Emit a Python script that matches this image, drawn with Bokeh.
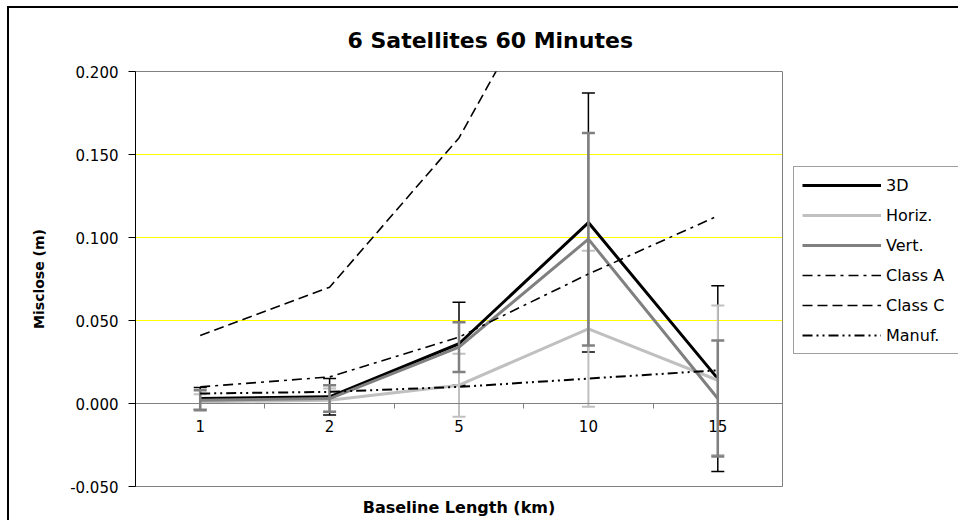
from bokeh.plotting import figure
from bokeh.layouts import row
from bokeh.models import (ColumnDataSource, FactorRange, Range1d, LinearAxis, CategoricalAxis,
                          FixedTicker, NumeralTickFormatter, Legend, LegendItem, InlineStyleSheet)
from bokeh.embed import file_html
from bokeh.resources import INLINE

# Baseline lengths (km) used as categories
baselines = ["1", "2", "5", "10", "15"]

# Mean misclose (m) per baseline
misclose_3d = [0.003, 0.004, 0.036, 0.109, 0.015]
misclose_horiz = [0.001, 0.002, 0.011, 0.045, 0.014]
misclose_vert = [0.002, 0.003, 0.034, 0.099, 0.003]

# Error bar half-widths (m)
err_3d = [0.0066, 0.011, 0.025, 0.078, 0.056]
err_horiz = [0.0045, 0.007, 0.019, 0.047, 0.045]
err_vert = [0.006, 0.008, 0.015, 0.064, 0.035]

# Tolerance curves (m)
class_a = [0.010, 0.016, 0.040, 0.078, 0.113]
class_c = [0.041, 0.070, 0.160, 0.300, 0.450]
manuf = [0.006, 0.007, 0.010, 0.015, 0.020]

y_ticks = [-0.05, 0.0, 0.05, 0.10, 0.15, 0.20]
grid_ticks = [0.05, 0.10, 0.15]

FONT = "DejaVu Sans"

# Series styles: (label, colour, width, dash)
styles = [
    ("3D", "black", 3, "solid"),
    ("Horiz.", "#C0C0C0", 3, "solid"),
    ("Vert.", "#808080", 3, "solid"),
    ("Class A", "black", 1.6, "10 5 3 5"),
    ("Class C", "black", 1.6, "10 5"),
    ("Manuf.", "black", 2, "10 4 2 4 2 4"),
]
series = [misclose_3d, misclose_horiz, misclose_vert, class_a, class_c, manuf]


def with_bars(values, errs):
    return ColumnDataSource(dict(
        x=baselines, y=values,
        upper=[v + e for v, e in zip(values, errs)],
        lower=[v - e for v, e in zip(values, errs)],
    ))


def border_css(left, width, draw_left):
    side = "border-left: 2px solid black;" if draw_left else ""
    return InlineStyleSheet(css=f"""
:host {{ position: relative; }}
:host::after {{
  content: ""; position: absolute; left: {left}px; top: 6px; width: {width}px; height: 514px;
  border-top: 2px solid black; {side} box-sizing: border-box;
  pointer-events: none; z-index: 10;
}}
""")


p = figure(width=793, height=520,
           x_range=FactorRange(factors=baselines), y_range=Range1d(-0.05, 0.2),
           x_axis_location=None, output_backend="svg", toolbar_location=None,
           min_border_left=135, min_border_right=11, min_border_top=71, min_border_bottom=34,
           background_fill_color="white", border_fill_color="white",
           outline_line_color="#808080", outline_line_width=1)
p.stylesheets.append(border_css(7, 786, True))

# Title
p.title.text = "6 Satellites 60 Minutes"
p.title.text_font = FONT
p.title.text_font_size = "22px"
p.title.text_font_style = "bold"
p.title.text_color = "black"
p.title.align = "left"
p.title.offset = 212
p.title.standoff = 38

# Value axis
yax = p.yaxis[0]
yax.ticker = FixedTicker(ticks=y_ticks)
yax.formatter = NumeralTickFormatter(format="0.000")
yax.axis_label = "Misclose (m)"
yax.axis_label_text_font = FONT
yax.axis_label_text_font_size = "14px"
yax.axis_label_text_font_style = "bold"
yax.axis_label_text_color = "black"
yax.axis_label_standoff = 20
yax.major_label_text_font = FONT
yax.major_label_text_font_size = "15px"
yax.major_label_text_color = "black"
yax.major_label_standoff = 10
yax.major_tick_in = 0
yax.major_tick_out = 7
yax.minor_tick_line_color = None
yax.axis_line_color = "black"
yax.major_tick_line_color = "black"

p.ygrid.ticker = FixedTicker(ticks=grid_ticks)
p.ygrid.grid_line_color = "#FFFF00"
p.xgrid.visible = False

# Category axis crossing at zero, labels at category centres
cat_axis = CategoricalAxis(fixed_location=0, axis_line_color="#808080",
                           major_tick_line_color=None, major_tick_out=0,
                           major_label_standoff=16, major_label_text_font=FONT,
                           major_label_text_font_size="15px", major_label_text_color="black")
p.add_layout(cat_axis, "below")

# Tick marks between categories on the zero line
boundaries = list(range(1, len(baselines) + 1))
tick_axis = LinearAxis(fixed_location=0, ticker=FixedTicker(ticks=boundaries),
                       axis_line_color="#808080", major_tick_line_color="#808080",
                       major_tick_in=0, major_tick_out=5, minor_tick_line_color=None,
                       major_label_text_alpha=0)
p.add_layout(tick_axis, "below")

# Axis title under the plot area
label_axis = LinearAxis(ticker=FixedTicker(ticks=[]), axis_label="Baseline Length (km)",
                        axis_line_color=None, major_tick_line_color=None, major_tick_out=0,
                        minor_tick_line_color=None, axis_label_standoff=11,
                        axis_label_text_font=FONT, axis_label_text_font_size="16px",
                        axis_label_text_font_style="bold", axis_label_text_color="black")
p.add_layout(label_axis, "below")


def draw_series(values, errs, color, width, bar_width):
    src = with_bars(values, errs)
    p.line("x", "y", source=src, line_color=color, line_width=width)
    p.segment(x0="x", y0="lower", x1="x", y1="upper", source=src,
              line_color=color, line_width=bar_width)
    p.scatter("x", "upper", source=src, marker="dash", size=13,
              line_color=color, line_width=bar_width)
    p.scatter("x", "lower", source=src, marker="dash", size=13,
              line_color=color, line_width=bar_width)


draw_series(misclose_3d, err_3d, "black", 3, 1.5)
draw_series(misclose_horiz, err_horiz, "#C0C0C0", 3, 2)
draw_series(misclose_vert, err_vert, "#808080", 3, 2.5)

for values, (label, color, width, dash) in zip(series[3:], styles[3:]):
    p.line(baselines, values, line_color=color, line_width=width, line_dash=dash)

# Legend panel to the right of the plot area; its value range sits above all
# series so only the legend swatches show
q = figure(width=165, height=520, output_backend="svg", toolbar_location=None,
           x_range=FactorRange(factors=baselines), y_range=Range1d(1, 2),
           x_axis_location=None, y_axis_location=None,
           min_border=0, outline_line_color=None,
           background_fill_color="white", border_fill_color="white")
q.grid.visible = False
q.stylesheets.append(border_css(0, 165, False))

items = []
for values, (label, color, width, dash) in zip(series, styles):
    r = q.line(baselines, values, line_color=color, line_width=width, line_dash=dash)
    items.append(LegendItem(label=label, renderers=[r]))

legend = Legend(items=items, location=(0, 132), padding=8, spacing=10, margin=0,
                glyph_width=79, glyph_height=20, label_standoff=5, label_width=74,
                label_text_font=FONT, label_text_font_size="16px", label_text_color="black",
                border_line_color="#404040", border_line_width=1,
                background_fill_color="white", background_fill_alpha=1)
q.add_layout(legend, "center")

open("out.html", "w").write(file_html(row(p, q), INLINE))
